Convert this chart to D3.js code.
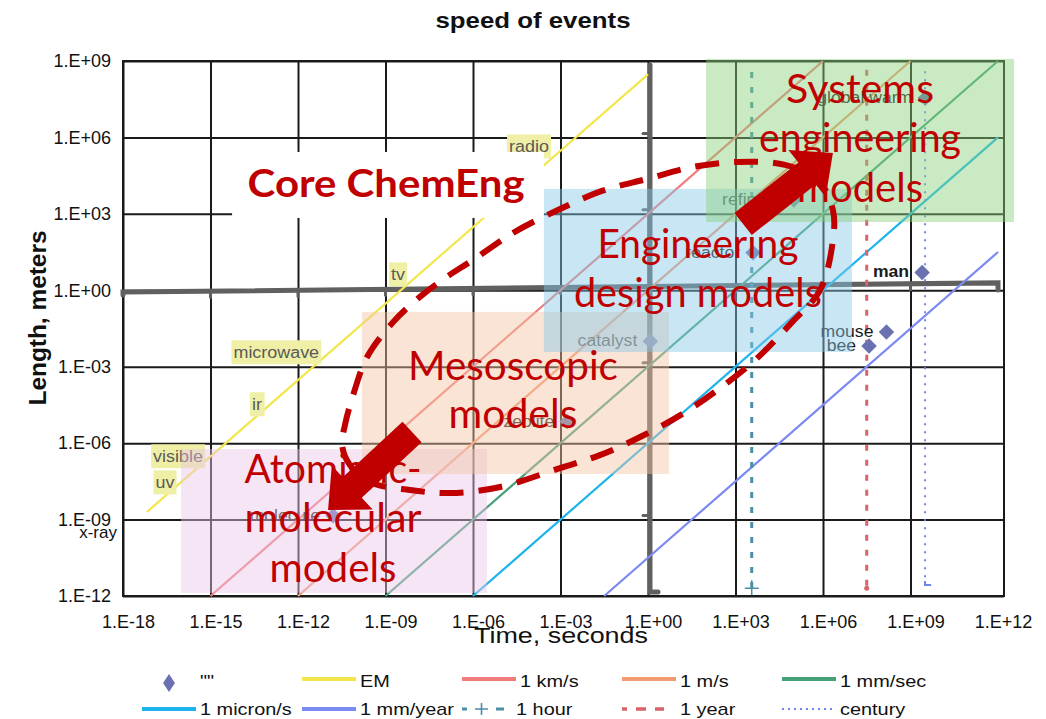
<!DOCTYPE html>
<html><head><meta charset="utf-8">
<script src="https://cdn.jsdelivr.net/npm/d3@7"></script>
<style>
body{margin:0;background:#fff;}
svg{display:block;font-family:"Liberation Sans",Arial,sans-serif;}
</style></head><body>
<svg id="chart" width="1046" height="719"></svg>
<script>
// ---------------- data ----------------
const xTickExps = [-18,-15,-12,-9,-6,-3,0,3,6,9,12];
const yTickExps = [-12,-9,-6,-3,0,3,6,9];

const speedNames = ["EM","1 km/s","1 m/s","1 mm/sec","1 micron/s","1 mm/year"];
const speedValues = [3e8,1e3,1,1e-3,1e-6,3.17e-11];          // m/s
const speedStartTimes = [6.6e-18,1e-15,1e-12,1e-9,1e-6,3.15e-2];
const speedEndTimes = [1,1e6,1e9,1e12,1e12,1e12];

const markerNames = ["1 hour","1 year","century"];
const markerTimes = [3600,3.156e7,3.156e9];
const markerTopLengths = [3.7e8,4.5e8,4e8];
const markerBottomLengths = [2e-12,2e-12,2.7e-12];

const eventSeriesName = '""';
const eventNames = ["molecule","zeolite","catalyst","reactor","refinery","global warm","man","mouse","bee"];
const eventTimes = [1.6e-11,1.7e-3,1.2,4e3,1e5,3.2e9,2.5e9,1.5e8,3.8e7];
const eventLengths = [1.4e-9,7e-6,0.01,30,3.5e3,3.5e7,5,0.023,0.0065];

const bandNames = ["radio","tv","microwave","ir","visible","uv"];
const bandTimes = [8.3e-5,2.7e-9,1.8e-13,3.9e-14,7.7e-17,2.75e-17];
const bandLengths = [4.2e5,4,3.5e-3,3.2e-5,2.9e-7,2.75e-8];
const xrayName = ["x-ray"], xrayTime = [6.2e-19], xrayLength = [1.9e-10];

const refLineTimes = [1e-18,1e12];           // "1 meter" reference (hand drawn)
const refLineLengths = [0.85,1.95];
const refVertTime = [1.17];                  // "1 second" reference
const refVertLengths = [6.9e8,1.45e-12];

// ---------------- styles ----------------
const speedColors = ["#f3e64a","#f07c7c","#f29a72","#45a078","#1db4ee","#7a8af0"];
const markerColors = ["#4b8fa6","#d9626b","#6f83ea"];
const markerDash = ["6,9","6,9","2,6"];
const diamondColor = "#6a70b0";
const RED = "#c00000";

const svg = d3.select("#chart");
svg.append("rect").attr("width",1046).attr("height",719).attr("fill","#fff");

const x = d3.scaleLog().domain([1e-18,1e12]).range([123,998]);
const y = d3.scaleLog().domain([1e-12,1e9]).range([596,61]);
const X = e => x(Math.pow(10,e)), Y = e => y(Math.pow(10,e));
const fmt = d => { const e = Math.round(Math.log10(d)); return "1.E" + (e<0?"-":"+") + String(Math.abs(e)).padStart(2,"0"); };
const pLeft = 123, pRight = 1004, pTop = 61, pBottom = 596;

// ---------------- axes / grid ----------------
const gy = svg.append("g").attr("transform",`translate(${pLeft},0)`)
  .call(d3.axisLeft(y).tickValues(yTickExps.map(e=>10**e)).tickFormat(fmt).tickSize(-(pRight-pLeft)).tickPadding(12));
const gx = svg.append("g").attr("transform",`translate(0,${pBottom})`)
  .call(d3.axisBottom(x).tickValues(xTickExps.map(e=>10**e)).tickFormat(fmt).tickSize(-(pBottom-pTop)).tickPadding(19));
[gx,gy].forEach(g=>{
  g.select(".domain").remove();
  g.selectAll(".tick line").attr("stroke","#1a1a1a").attr("stroke-width",2);
  g.selectAll(".tick text").attr("font-size",18).attr("fill","#111").attr("font-family","Liberation Sans, Arial, sans-serif");
});
gx.selectAll(".tick text").attr("dx",5);
gx.selectAll(".tick").filter(d=>d===1e12).select("line").remove();
svg.append("rect").attr("x",pLeft).attr("y",pTop).attr("width",pRight-pLeft).attr("height",pBottom-pTop)
  .attr("fill","none").attr("stroke","#1a1a1a").attr("stroke-width",2);

// ---------------- hand drawn reference lines ----------------
const ref = svg.append("g").attr("stroke","#606060").attr("stroke-width",5).attr("fill","none").attr("stroke-linecap","round");
ref.append("path").attr("d", d3.line()([
  [x(refLineTimes[0]), y(refLineLengths[0])+3],[x(refLineTimes[0]), y(refLineLengths[0])],
  [x(refLineTimes[1]), y(refLineLengths[1])],[x(refLineTimes[1]), y(refLineLengths[1])+7]]));
ref.append("path").attr("d", d3.line()([
  [x(refVertTime[0]), y(refVertLengths[0])],[x(refVertTime[0]), y(refVertLengths[1])],[x(refVertTime[0])+8, y(refVertLengths[1])]]));
const hy = d3.scaleLog().domain(refLineTimes).range(refLineLengths.map(v=>y(v)));
xTickExps.slice(1,-1).forEach(e=>{
  ref.append("line").attr("stroke-width",3).attr("x1",X(e)).attr("x2",X(e)).attr("y1",hy(10**e)).attr("y2",hy(10**e)+6);
});
[-9,-3,3,6].forEach(e=>{
  ref.append("line").attr("stroke-width",3).attr("x1",x(refVertTime[0])).attr("x2",x(refVertTime[0])-7).attr("y1",Y(e)-4).attr("y2",Y(e)-4);
});

// ---------------- speed lines ----------------
const line = d3.line().x(d=>x(d[0])).y(d=>y(d[1]));
speedNames.forEach((n,i)=>{
  svg.append("path").attr("fill","none").attr("stroke",speedColors[i]).attr("stroke-width",2.2)
    .attr("d", line([[speedStartTimes[i], speedValues[i]*speedStartTimes[i]],[speedEndTimes[i], speedValues[i]*speedEndTimes[i]]]));
});
// ---------------- time markers ----------------
markerNames.forEach((n,i)=>{
  svg.append("path").attr("fill","none").attr("stroke",markerColors[i]).attr("stroke-width",i==2?2:3)
    .attr("stroke-dasharray",markerDash[i])
    .attr("d", line([[markerTimes[i],markerTopLengths[i]],[markerTimes[i],markerBottomLengths[i]]]));
});
{ const px = x(markerTimes[0]), py = y(markerBottomLengths[0]);
  svg.append("path").attr("stroke",markerColors[0]).attr("stroke-width",1.5).attr("d",`M${px-7},${py}H${px+7}M${px},${py-8}V${py+7}`);
  svg.append("circle").attr("cx",x(markerTimes[1])).attr("cy",y(markerBottomLengths[1])).attr("r",2.5).attr("fill",markerColors[1]);
  svg.append("path").attr("stroke",markerColors[2]).attr("stroke-width",2).attr("fill","none")
    .attr("d",`M${x(markerTimes[2])},${y(markerBottomLengths[2])-4}V${y(markerBottomLengths[2])}h6`);
}

// ---------------- EM band labels ----------------
function stretch(sel, s){ sel.each(function(){ const w=this.getComputedTextLength(); this.setAttribute("textLength", w*s); this.setAttribute("lengthAdjust","spacingAndGlyphs"); }); }
const bandG = svg.append("g");
bandNames.forEach((n,i)=>{
  const t = bandG.append("text").attr("x",x(bandTimes[i])).attr("y",y(bandLengths[i])).attr("dy","0.34em")
    .attr("text-anchor","middle").attr("font-size",16).attr("fill","#5a5a5a").text(n);
  stretch(t,1.12);
  const b = t.node().getBBox();
  bandG.insert("rect","text").attr("x",b.x-2).attr("y",b.y-4).attr("width",b.width+4).attr("height",b.height+7).attr("fill","#f0efa6");
});
stretch(svg.append("text").attr("x",x(xrayTime[0])).attr("y",y(xrayLength[0])).attr("text-anchor","end")
  .attr("font-size",17).attr("fill","#111").text(xrayName[0]),1.0);

// ---------------- events (diamonds) ----------------
const diamond = d3.symbol(d3.symbolSquare,120)();
eventNames.forEach((n,i)=>{
  const px = x(eventTimes[i]), py = y(eventLengths[i]);
  svg.append("path").attr("d",diamond).attr("transform",`translate(${px},${py}) rotate(45)`).attr("fill",diamondColor);
  stretch(svg.append("text").attr("x",px-13).attr("y",py+5).attr("text-anchor","end").attr("font-size",16)
    .attr("font-weight", n==="man"?"bold":"normal").attr("fill","#1a1a1a").text(n),1.1);
});

// ---------------- annotation zones (data-space extents, log10 units) ----------------
const zones = [
  {lines:["Atomistic-","molecular","models"], t:[-16.01,-5.52], l:[-6.23,-11.88], fill:"rgb(233,198,233)", tx:-10.8, ty:[-7.56,-9.49,-11.45], w:[177,177,127]},
  {lines:["Mesoscopic","models"], t:[-9.81,0.72], l:[-0.85,-7.21], fill:"rgb(245,196,164)", tx:-4.63, ty:[-3.52,-5.41], w:[210,129]},
  {lines:["Engineering","design models"], t:[-3.57,6.99], l:[3.98,-2.42], fill:"rgb(133,200,231)", tx:1.71, ty:[1.27,-0.66], w:[201,248]},
  {lines:["Systems","engineering","models"], t:[1.99,12.55], l:[9.08,2.68], fill:"rgb(136,209,122)", tx:7.27, ty:[7.35,5.43,3.47], w:[148,202,126]}
];
zones.forEach(z=>{
  svg.append("rect").attr("x",X(z.t[0])).attr("y",Y(z.l[0])).attr("width",X(z.t[1])-X(z.t[0])).attr("height",Y(z.l[1])-Y(z.l[0]))
    .attr("fill",z.fill).attr("fill-opacity",0.45);
});
// Core ChemEng
const core = {t:[-14.26,-3.57], l:[5.43,2.84], tx:-8.98, ty:3.66};
svg.append("rect").attr("x",X(core.t[0])).attr("y",Y(core.l[0])).attr("width",X(core.t[1])-X(core.t[0])).attr("height",Y(core.l[1])-Y(core.l[0])).attr("fill","#fff");
svg.append("text").attr("x",X(core.tx)).attr("y",Y(core.ty)).attr("text-anchor","middle")
  .attr("font-family","Lato, 'Open Sans', sans-serif").attr("font-weight",700).attr("font-size",38).attr("fill",RED)
  .attr("textLength",277).attr("lengthAdjust","spacingAndGlyphs").text("Core ChemEng");
zones.forEach(z=>{
  z.lines.forEach((s,k)=>{
    svg.append("text").attr("x",X(z.tx)).attr("y",Y(z.ty[k])).attr("text-anchor","middle")
      .attr("font-family","Lato, 'Open Sans', sans-serif").attr("font-size",40).attr("fill",RED)
      .attr("textLength",z.w[k]).attr("lengthAdjust","spacingAndGlyphs").text(s);
  });
});

// dashed loop (log10 t, log10 L)
const loop = [[-6.0,1.19],[-4.63,2.25],[-3.09,3.15],[-1.58,3.90],[-0.03,4.37],[1.54,4.84],[3.15,5.04],[4.70,4.92],[5.83,4.33],[6.34,3.15],[6.34,1.97],[5.90,0.01],[4.94,-1.25],[3.67,-2.74],[2.47,-3.84],[1.17,-4.86],[-0.27,-5.76],[-1.65,-6.47],[-3.02,-6.98],[-5.07,-7.72],[-6.79,-7.96],[-8.16,-7.84],[-9.53,-7.53],[-10.22,-6.86],[-10.49,-6.07],[-10.39,-5.29],[-10.11,-4.11],[-9.63,-2.62],[-8.74,-1.25],[-7.82,-0.26],[-6.96,0.48]];
svg.append("path").attr("fill","none").attr("stroke",RED).attr("stroke-width",6).attr("stroke-dasharray","24,15")
  .attr("d", d3.line().x(d=>X(d[0])).y(d=>Y(d[1])).curve(d3.curveCatmullRomClosed.alpha(0.5))(loop));

// block arrows (tail -> tip, log10 units)
const arrows = [ {tail:[3.26,2.60], tip:[6.34,5.39]}, {tail:[-8.09,-5.56], tip:[-10.97,-8.62]} ];
arrows.forEach(a=>{
  const t=[X(a.tail[0]),Y(a.tail[1])], p=[X(a.tip[0]),Y(a.tip[1])];
  const dx=p[0]-t[0], dy=p[1]-t[1], L=Math.hypot(dx,dy), ux=dx/L, uy=dy/L, nx=-uy, ny=ux;
  const sw=28, hw=60, hl=33, b=[p[0]-ux*hl, p[1]-uy*hl];
  const pts=[[t[0]+nx*sw/2,t[1]+ny*sw/2],[b[0]+nx*sw/2,b[1]+ny*sw/2],[b[0]+nx*hw/2,b[1]+ny*hw/2],p,
             [b[0]-nx*hw/2,b[1]-ny*hw/2],[b[0]-nx*sw/2,b[1]-ny*sw/2],[t[0]-nx*sw/2,t[1]-ny*sw/2]];
  svg.append("path").attr("d",d3.line()(pts)+"Z").attr("fill",RED);
});

// ---------------- titles ----------------
svg.append("text").attr("x",533).attr("y",28).attr("text-anchor","middle").attr("font-weight","bold").attr("font-size",22)
  .attr("fill","#111").attr("textLength",195).attr("lengthAdjust","spacingAndGlyphs").text("speed of events");
svg.append("text").attr("transform","translate(46,318) rotate(-90)").attr("text-anchor","middle").attr("font-weight","bold")
  .attr("font-size",23).attr("fill","#111").attr("textLength",175).attr("lengthAdjust","spacingAndGlyphs").text("Length, meters");
svg.append("text").attr("x",561).attr("y",643).attr("text-anchor","middle").attr("font-size",22)
  .attr("fill","#111").attr("textLength",174).attr("lengthAdjust","spacingAndGlyphs").text("Time, seconds");

// ---------------- legend ----------------
const legendNames = [eventSeriesName, ...speedNames, ...markerNames];
const lg = svg.append("g");
legendNames.forEach((n,i)=>{
  const col=i%5, row=Math.floor(i/5), x0=142+160*col, ly=row?709:679, ty=row?715:687;
  if(i===0){
    lg.append("path").attr("d",d3.symbol(d3.symbolSquare,110)()).attr("transform",`translate(${x0+27},${ly+4}) scale(0.8,1.2) rotate(45)`).attr("fill",diamondColor);
  } else if(i<=6){
    lg.append("line").attr("x1",x0).attr("x2",x0+54).attr("y1",ly).attr("y2",ly).attr("stroke",speedColors[i-1]).attr("stroke-width",4);
  } else if(i===7){
    const c=markerColors[0];
    lg.append("path").attr("stroke",c).attr("stroke-width",3).attr("d",`M${x0},${ly}h5M${x0+34},${ly}h8`);
    lg.append("path").attr("stroke",c).attr("stroke-width",1.6).attr("d",`M${x0+13},${ly}h13M${x0+19.5},${ly-6}v12`);
  } else if(i===8){
    lg.append("path").attr("stroke",markerColors[1]).attr("stroke-width",3.5).attr("d",`M${x0},${ly}h5M${x0+14},${ly}h10M${x0+33},${ly}h9`);
  } else {
    lg.append("line").attr("x1",x0).attr("x2",x0+52).attr("y1",ly).attr("y2",ly).attr("stroke",markerColors[2]).attr("stroke-width",2).attr("stroke-dasharray","2,4");
  }
  const tx = i===7 ? x0+54 : x0+58;
  stretch(lg.append("text").attr("x",tx).attr("y",ty).attr("font-size",17).attr("fill","#111").text(n),1.17);
});
</script>
</body></html>
